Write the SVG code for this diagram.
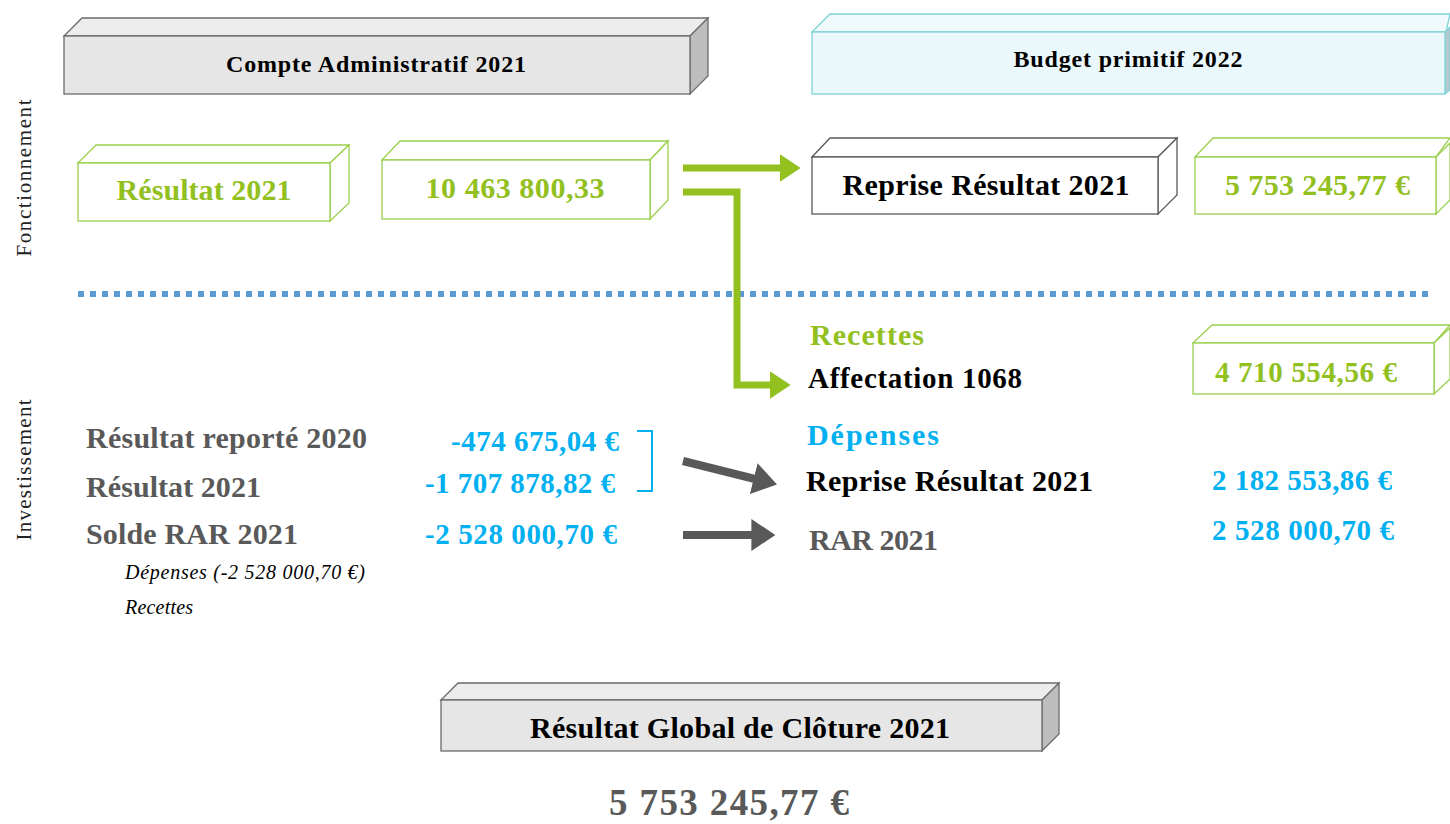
<svg xmlns="http://www.w3.org/2000/svg" width="1450" height="824" viewBox="0 0 1450 824">
<defs>
<style>
text{font-family:"Liberation Serif","DejaVu Serif",serif;font-weight:bold}
.g{fill:#92c01f}.b{fill:#00b0f0}.k{fill:#000}.d{fill:#595959}
.gb{fill:#fff;stroke:#9bd04f;stroke-width:1.3}
.hb{fill:#e6e6e6;stroke:#6b6b6b;stroke-width:1.3}
.hbt{fill:#ededed;stroke:#6b6b6b;stroke-width:1.3}
.hbs{fill:#bdbdbd;stroke:#6b6b6b;stroke-width:1.3}
.cb{fill:#eaf8fc;stroke:#7dd3d6;stroke-width:1.3}
.cbt{fill:#f0fafd;stroke:#7dd3d6;stroke-width:1.3}
.cbs{fill:#b9c8cf;stroke:#7dd3d6;stroke-width:1.3}
.kb{fill:#fff;stroke:#595959;stroke-width:1.3}
.side{font-weight:normal;font-size:21px;fill:#222}
.it{font-weight:normal;font-style:italic;font-size:20px;fill:#000}
</style>
<marker id="ag" markerWidth="4" markerHeight="4" refX="1.2" refY="2" orient="auto" markerUnits="strokeWidth"><path d="M0,0 L3,2 L0,4 Z" fill="#92c01f"/></marker>
<marker id="ad" markerWidth="4" markerHeight="4" refX="1.2" refY="2" orient="auto" markerUnits="strokeWidth"><path d="M0,0 L3,2 L0,4 Z" fill="#595959"/></marker>
</defs>

<g id="side-labels">
<text class="side" transform="translate(31,178) rotate(-90)" text-anchor="middle" textLength="157">Fonctionnement</text>
<text class="side" transform="translate(31,470) rotate(-90)" text-anchor="middle" textLength="141">Investissement</text>
</g>

<g id="hdr-ca">
<path class="hbt" d="M64,36 L82,18 L708,18 L690,36 Z"/>
<path class="hbs" d="M690,36 L708,18 L708,76 L690,94 Z"/>
<rect class="hb" x="64" y="36" width="626" height="58"/>
<text x="376" y="72" text-anchor="middle" font-size="24" textLength="300" class="k">Compte Administratif 2021</text>
</g>

<g id="hdr-bp">
<path class="cbt" d="M812,32 L830,14 L1450,14 L1446,32 Z"/>
<path class="cbs" d="M1445,32 L1450,27 L1450,90 L1445,94 Z"/>
<rect class="cb" x="812" y="32" width="633" height="62"/>
<text x="1128" y="67" text-anchor="middle" font-size="24" textLength="229" class="k">Budget primitif 2022</text>
</g>

<g id="f-resultat">
<path class="gb" d="M78,163 L96,145 L349,145 L330,163 Z"/>
<path class="gb" d="M330,163 L349,145 L349,203 L330,221 Z"/>
<rect class="gb" x="78" y="163" width="252" height="58"/>
<text x="204" y="200" text-anchor="middle" font-size="30" textLength="175" class="g">Résultat 2021</text>
</g>

<g id="f-montant">
<path class="gb" d="M382,160 L400,141 L668,141 L650,160 Z"/>
<path class="gb" d="M650,160 L668,141 L668,200 L650,219 Z"/>
<rect class="gb" x="382" y="160" width="268" height="59"/>
<text x="515" y="198" text-anchor="middle" font-size="30" textLength="179" class="g">10 463 800,33</text>
</g>

<g id="bp-reprise">
<path class="kb" d="M812,157 L830,138 L1177,138 L1158,157 Z"/>
<path class="kb" d="M1158,157 L1177,138 L1177,195 L1158,214 Z"/>
<rect class="kb" x="812" y="157" width="346" height="57"/>
<text x="986" y="195" text-anchor="middle" font-size="30" textLength="287" class="k">Reprise Résultat 2021</text>
</g>

<g id="bp-montant-f">
<path class="gb" d="M1195,157 L1213,138 L1450,138 L1436,157 Z"/>
<path class="gb" d="M1436,157 L1450,143 L1450,200 L1436,214 Z"/>
<rect class="gb" x="1195" y="157" width="241" height="57"/>
<text x="1225" y="195" font-size="30" textLength="185" class="g">5 753 245,77 €</text>
</g>

<g id="separator">
<line x1="78" y1="294" x2="1432" y2="294" stroke="#5b9bd5" stroke-width="6" stroke-dasharray="6,6"/>
</g>

<g id="inv-recettes">
<text x="810" y="345" font-size="30" textLength="114" class="g">Recettes</text>
<text x="808" y="388" font-size="29" textLength="214" class="k">Affectation 1068</text>
</g>

<g id="bp-montant-1068">
<path class="gb" d="M1193,343 L1212,325 L1450,325 L1434,343 Z"/>
<path class="gb" d="M1434,343 L1450,328 L1450,379 L1434,394 Z"/>
<rect class="gb" x="1193" y="343" width="241" height="51"/>
<text x="1215" y="382" font-size="29" textLength="182" class="g">4 710 554,56 €</text>
</g>

<g id="inv-ca">
<text x="86" y="448" font-size="30" textLength="281" class="d">Résultat reporté 2020</text>
<text x="86" y="497" font-size="30" textLength="175" class="d">Résultat 2021</text>
<text x="86" y="544" font-size="30" textLength="212" class="d">Solde RAR 2021</text>
<text x="451" y="451" font-size="29" textLength="168" class="b">-474 675,04 €</text>
<text x="425" y="493" font-size="29" textLength="190" class="b">-1 707 878,82 €</text>
<text x="425" y="544" font-size="29" textLength="192" class="b">-2 528 000,70 €</text>
<path d="M637,431 L652,431 L652,491 L637,491" fill="none" stroke="#00b0f0" stroke-width="2"/>
<text x="125" y="579" textLength="240" class="it">Dépenses (-2 528 000,70 €)</text>
<text x="125" y="614" textLength="68" class="it">Recettes</text>
</g>

<g id="inv-bp">
<text x="807" y="445" font-size="30" textLength="132" class="b">Dépenses</text>
<text x="806" y="491" font-size="30" textLength="287" class="k">Reprise Résultat 2021</text>
<text x="809" y="550" font-size="30" textLength="129" class="d">RAR 2021</text>
<text x="1212" y="490" font-size="29" textLength="180" class="b">2 182 553,86 €</text>
<text x="1212" y="540" font-size="29" textLength="182" class="b">2 528 000,70 €</text>
</g>

<g id="connectors">
<path d="M683,168 L788,168" fill="none" stroke="#92c01f" stroke-width="7" marker-end="url(#ag)"/>
<path d="M683,192 L737,192 L737,385 L778,385" fill="none" stroke="#92c01f" stroke-width="7" marker-end="url(#ag)"/>
<path d="M683,461 L763,481" fill="none" stroke="#595959" stroke-width="8" marker-end="url(#ad)"/>
<path d="M683,535 L761,535" fill="none" stroke="#595959" stroke-width="8" marker-end="url(#ad)"/>
</g>

<g id="global">
<path class="hbt" d="M441,700 L458,683 L1059,683 L1042,700 Z"/>
<path class="hbs" d="M1042,700 L1059,683 L1059,734 L1042,751 Z"/>
<rect class="hb" x="441" y="700" width="601" height="51"/>
<text x="740" y="738" text-anchor="middle" font-size="30" textLength="420" class="k">Résultat Global de Clôture 2021</text>
<text x="729" y="815" text-anchor="middle" font-size="37" textLength="240" class="d">5 753 245,77 €</text>
</g>
</svg>
